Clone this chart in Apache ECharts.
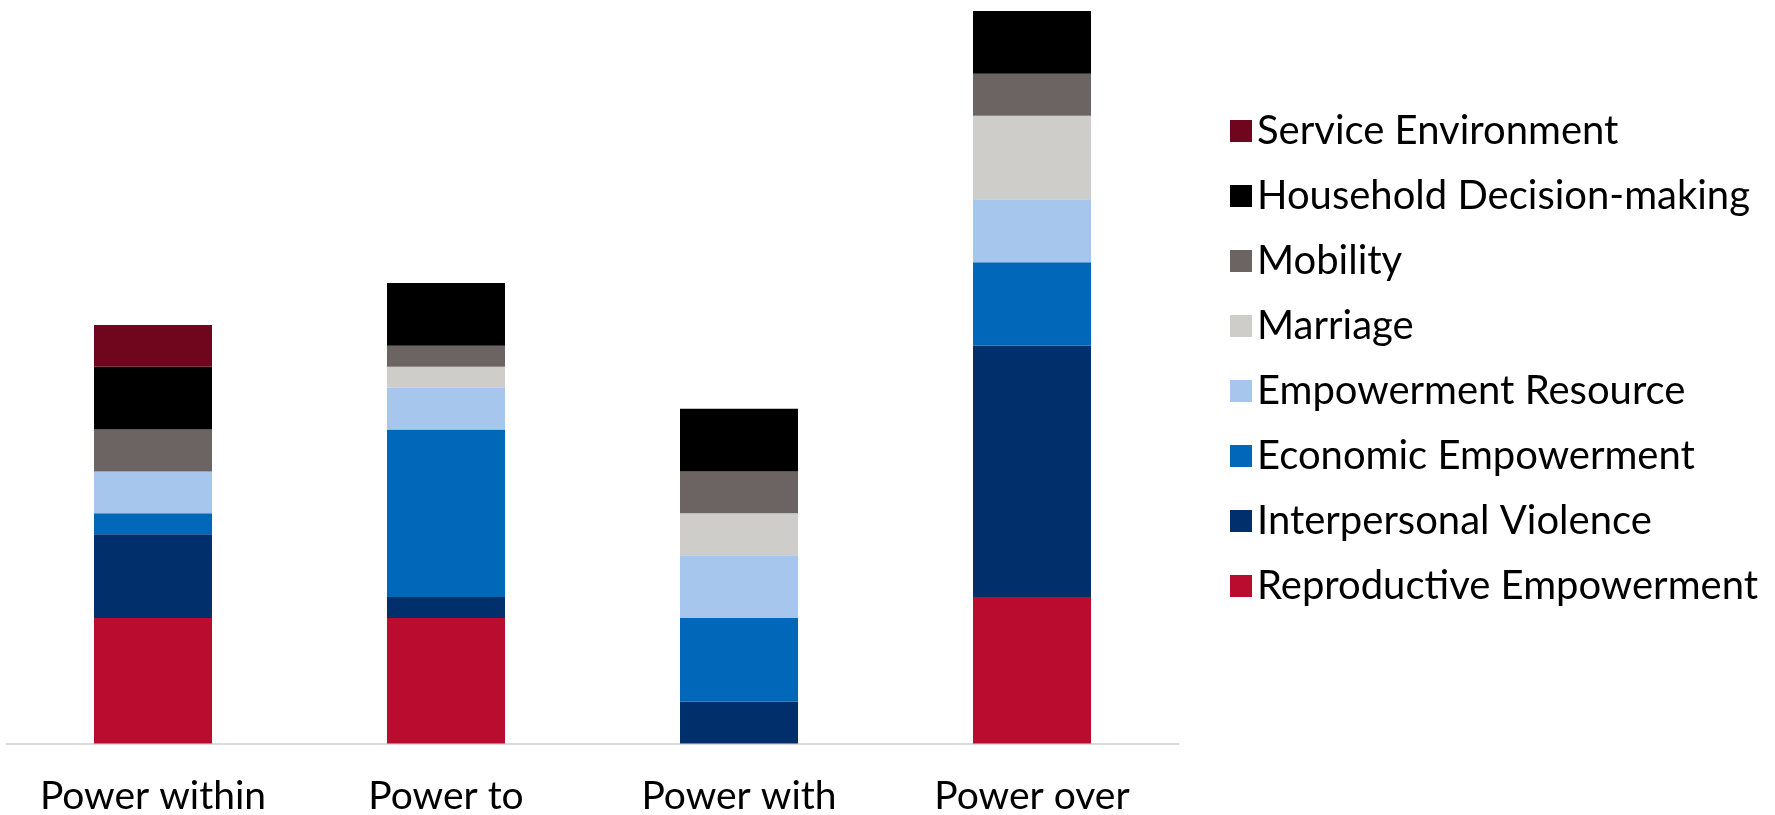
<!DOCTYPE html>
<html>
<head>
<meta charset="utf-8">
<script src="https://cdn.jsdelivr.net/npm/echarts@6/dist/echarts.min.js"></script>
<style>
html,body{margin:0;padding:0;background:#fff;}
#chart{width:1775px;height:815px;}
</style>
</head>
<body>
<div id="chart"></div>
<script>
const categories = ['Power within', 'Power to', 'Power with', 'Power over'];
const seriesNames = ['Reproductive Empowerment', 'Interpersonal Violence', 'Economic Empowerment', 'Empowerment Resource', 'Marriage', 'Mobility', 'Household Decision-making', 'Service Environment'];
const reproductive = [6, 6, 0, 7];
const interpersonal = [4, 1, 2, 12];
const economic = [1, 8, 4, 4];
const empResource = [2, 2, 3, 3];
const marriage = [0, 1, 2, 4];
const mobility = [2, 1, 2, 2];
const household = [3, 3, 3, 3];
const service = [2, 0, 0, 0];
const colors = ['#BA0C2F', '#002F6C', '#0067B9', '#A7C6ED', '#CFCDC9', '#6C6463', '#000000', '#6F061E'];
const values = [reproductive, interpersonal, economic, empResource, marriage, mobility, household, service];

const chart = echarts.init(document.getElementById('chart'));
chart.setOption({
  animation: false,
  grid: { left: 6.5, width: 1172, top: 11, bottom: 71.5, containLabel: false, outerBoundsMode: 'none' },
  legend: {
    orient: 'vertical',
    left: 1225,
    top: 106,
    itemWidth: 22,
    itemHeight: 22,
    itemGap: 25,
    icon: 'rect',
    data: seriesNames.slice().reverse(),
    textStyle: { fontFamily: 'Lato', fontSize: 40, color: '#000', lineHeight: 40, padding: [0, 0, 0, 0] }
  },
  xAxis: {
    type: 'category',
    data: categories,
    axisLine: { lineStyle: { color: '#D9D9D9', width: 2 } },
    axisTick: { show: false },
    axisLabel: { interval: 0, fontFamily: 'Lato', fontSize: 39, color: '#000', margin: 34, lineHeight: 38, hideOverlap: false }
  },
  yAxis: {
    type: 'value', min: 0, max: 35,
    show: false,
    splitLine: { show: false }
  },
  series: seriesNames.map((name, i) => ({
    name: name,
    type: 'bar',
    stack: 'total',
    barWidth: 118,
    data: values[i],
    itemStyle: { color: colors[i] }
  }))
});
</script>
</body>
</html>
